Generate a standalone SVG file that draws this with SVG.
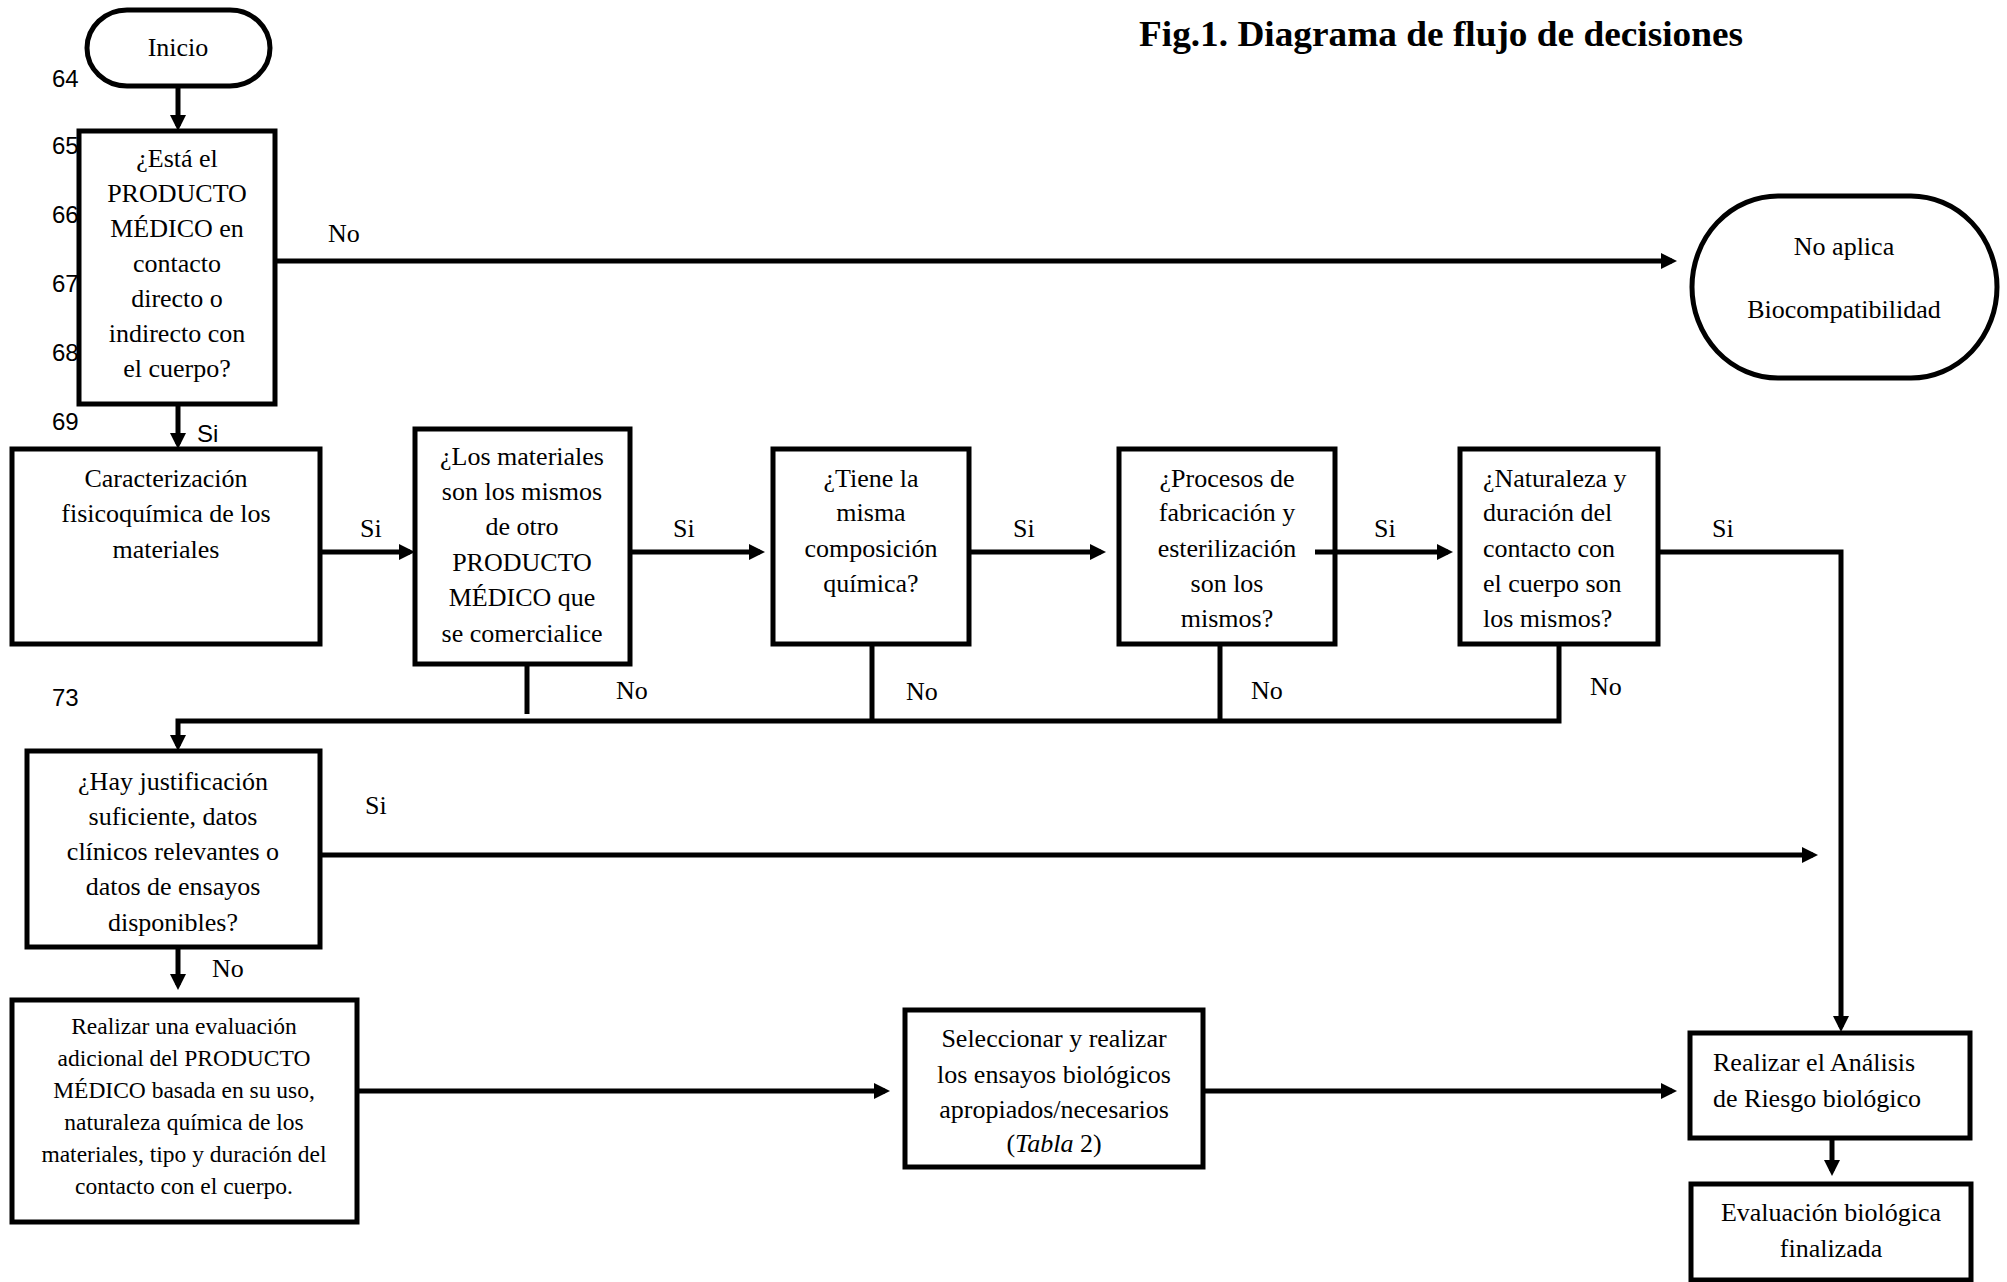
<svg xmlns="http://www.w3.org/2000/svg" width="2007" height="1282" viewBox="0 0 2007 1282">
<style>
.box{fill:#fff;stroke:#000;stroke-width:5}
.t{font-family:"Liberation Serif","Times New Roman",serif;font-size:26px;fill:#000}
.c{text-anchor:middle}
.s{font-family:"Liberation Serif","Times New Roman",serif;font-size:23.5px;fill:#000;text-anchor:middle}
.n{font-family:"Liberation Sans",Arial,sans-serif;font-size:24px;fill:#000}
.title{font-family:"Liberation Serif","Times New Roman",serif;font-size:36px;font-weight:bold;fill:#000}
.ln{fill:none;stroke:#000;stroke-width:5}
</style>
<defs>
<marker id="ah" markerUnits="userSpaceOnUse" markerWidth="16" markerHeight="16" refX="11" refY="8" orient="auto">
<path d="M0,0 L16,8 L0,16 z" fill="#000"/>
</marker>
</defs>
<rect width="2007" height="1282" fill="#fff"/>
<text class="title" x="1139" y="46" textLength="604" lengthAdjust="spacingAndGlyphs">Fig.1. Diagrama de flujo de decisiones</text>
<g id="linenums">
<text class="n" x="52" y="87">64</text>
<text class="n" x="52" y="154">65</text>
<text class="n" x="52" y="223">66</text>
<text class="n" x="52" y="292">67</text>
<text class="n" x="52" y="361">68</text>
<text class="n" x="52" y="430">69</text>
<text class="n" x="52" y="706">73</text>
</g>
<g id="connectors">
<path class="ln" d="M178,86 V126" marker-end="url(#ah)"/>
<path class="ln" d="M275,261 H1672" marker-end="url(#ah)"/>
<path class="ln" d="M178,404 V444" marker-end="url(#ah)"/>
<path class="ln" d="M320,552 H410" marker-end="url(#ah)"/>
<path class="ln" d="M630,552 H760" marker-end="url(#ah)"/>
<path class="ln" d="M969,552 H1101" marker-end="url(#ah)"/>
<path class="ln" d="M1658,552 H1841 V1027" marker-end="url(#ah)"/>
<path class="ln" d="M527,664 V714"/>
<path class="ln" d="M872,644 V721"/>
<path class="ln" d="M1220,644 V721"/>
<path class="ln" d="M1559,644 V721 H178 V746" marker-end="url(#ah)"/>
<path class="ln" d="M320,855 H1813" marker-end="url(#ah)"/>
<path class="ln" d="M178,947 V985" marker-end="url(#ah)"/>
<path class="ln" d="M357,1091 H885" marker-end="url(#ah)"/>
<path class="ln" d="M1203,1091 H1672" marker-end="url(#ah)"/>
<path class="ln" d="M1832,1138 V1171" marker-end="url(#ah)"/>
<text class="t" x="328" y="242">No</text>
<text class="n" x="197" y="442">Si</text>
<text class="t" x="360" y="537">Si</text>
<text class="t" x="673" y="537">Si</text>
<text class="t" x="1013" y="537">Si</text>
<text class="t" x="1374" y="537">Si</text>
<text class="t" x="1712" y="537">Si</text>
<text class="t" x="616" y="699">No</text>
<text class="t" x="906" y="700">No</text>
<text class="t" x="1251" y="699">No</text>
<text class="t" x="1590" y="695">No</text>
<text class="t" x="365" y="814">Si</text>
<text class="t" x="212" y="977">No</text>
</g>
<g id="inicio">
<rect class="box" x="87" y="10" width="183" height="76" rx="40" ry="38"/>
<text class="t c" x="178" y="56">Inicio</text>
</g>
<g id="q-contacto">
<rect class="box" x="79" y="131" width="196" height="273"/>
<text class="t c" x="177" y="167">¿Está el</text>
<text class="t c" x="177" y="202">PRODUCTO</text>
<text class="t c" x="177" y="237">MÉDICO en</text>
<text class="t c" x="177" y="272">contacto</text>
<text class="t c" x="177" y="307">directo o</text>
<text class="t c" x="177" y="342">indirecto con</text>
<text class="t c" x="177" y="377">el cuerpo?</text>
</g>
<g id="no-aplica">
<rect class="box" x="1692" y="196" width="305" height="182" rx="86" ry="91"/>
<text class="t c" x="1844" y="255">No aplica</text>
<text class="t c" x="1844" y="318">Biocompatibilidad</text>
</g>
<g id="caracterizacion">
<rect class="box" x="12" y="449" width="308" height="195"/>
<text class="t c" x="166" y="487">Caracterización</text>
<text class="t c" x="166" y="522">fisicoquímica de los</text>
<text class="t c" x="166" y="558">materiales</text>
</g>
<g id="q-materiales">
<rect class="box" x="415" y="429" width="215" height="235"/>
<text class="t c" x="522" y="465">¿Los materiales</text>
<text class="t c" x="522" y="500">son los mismos</text>
<text class="t c" x="522" y="535">de otro</text>
<text class="t c" x="522" y="571">PRODUCTO</text>
<text class="t c" x="522" y="606">MÉDICO que</text>
<text class="t c" x="522" y="642">se comercialice</text>
</g>
<g id="q-composicion">
<rect class="box" x="773" y="449" width="196" height="195"/>
<text class="t c" x="871" y="487">¿Tiene la</text>
<text class="t c" x="871" y="521">misma</text>
<text class="t c" x="871" y="557">composición</text>
<text class="t c" x="871" y="592">química?</text>
</g>
<g id="q-procesos">
<rect class="box" x="1119" y="449" width="216" height="195"/>
<text class="t c" x="1227" y="487">¿Procesos de</text>
<text class="t c" x="1227" y="521">fabricación y</text>
<text class="t c" x="1227" y="557">esterilización</text>
<text class="t c" x="1227" y="592">son los</text>
<text class="t c" x="1227" y="627">mismos?</text>
</g>
<path class="ln" d="M1315,552 H1448" marker-end="url(#ah)"/>
<g id="q-naturaleza">
<rect class="box" x="1460" y="449" width="198" height="195"/>
<text class="t" x="1483" y="487">¿Naturaleza y</text>
<text class="t" x="1483" y="521">duración del</text>
<text class="t" x="1483" y="557">contacto con</text>
<text class="t" x="1483" y="592">el cuerpo son</text>
<text class="t" x="1483" y="627">los mismos?</text>
</g>
<g id="q-justificacion">
<rect class="box" x="27" y="751" width="293" height="196"/>
<text class="t c" x="173" y="790">¿Hay justificación</text>
<text class="t c" x="173" y="825">suficiente, datos</text>
<text class="t c" x="173" y="860">clínicos relevantes o</text>
<text class="t c" x="173" y="895">datos de ensayos</text>
<text class="t c" x="173" y="931">disponibles?</text>
</g>
<g id="evaluacion-adicional">
<rect class="box" x="12" y="1000" width="345" height="222"/>
<text class="s" x="184" y="1034">Realizar una evaluación</text>
<text class="s" x="184" y="1066">adicional del PRODUCTO</text>
<text class="s" x="184" y="1098">MÉDICO basada en su uso,</text>
<text class="s" x="184" y="1130">naturaleza química de los</text>
<text class="s" x="184" y="1162">materiales, tipo y duración del</text>
<text class="s" x="184" y="1194">contacto con el cuerpo.</text>
</g>
<g id="seleccionar">
<rect class="box" x="905" y="1010" width="298" height="157"/>
<text class="t c" x="1054" y="1047">Seleccionar y realizar</text>
<text class="t c" x="1054" y="1083">los ensayos biológicos</text>
<text class="t c" x="1054" y="1118">apropiados/necesarios</text>
<text class="t c" x="1054" y="1152">(<tspan font-style="italic">Tabla</tspan> 2)</text>
</g>
<g id="analisis-riesgo">
<rect class="box" x="1690" y="1033" width="280" height="105"/>
<text class="t" x="1713" y="1071">Realizar el Análisis</text>
<text class="t" x="1713" y="1107">de Riesgo biológico</text>
</g>
<g id="evaluacion-finalizada">
<rect class="box" x="1691" y="1184" width="280" height="96"/>
<text class="t c" x="1831" y="1221">Evaluación biológica</text>
<text class="t c" x="1831" y="1257">finalizada</text>
</g>
</svg>
